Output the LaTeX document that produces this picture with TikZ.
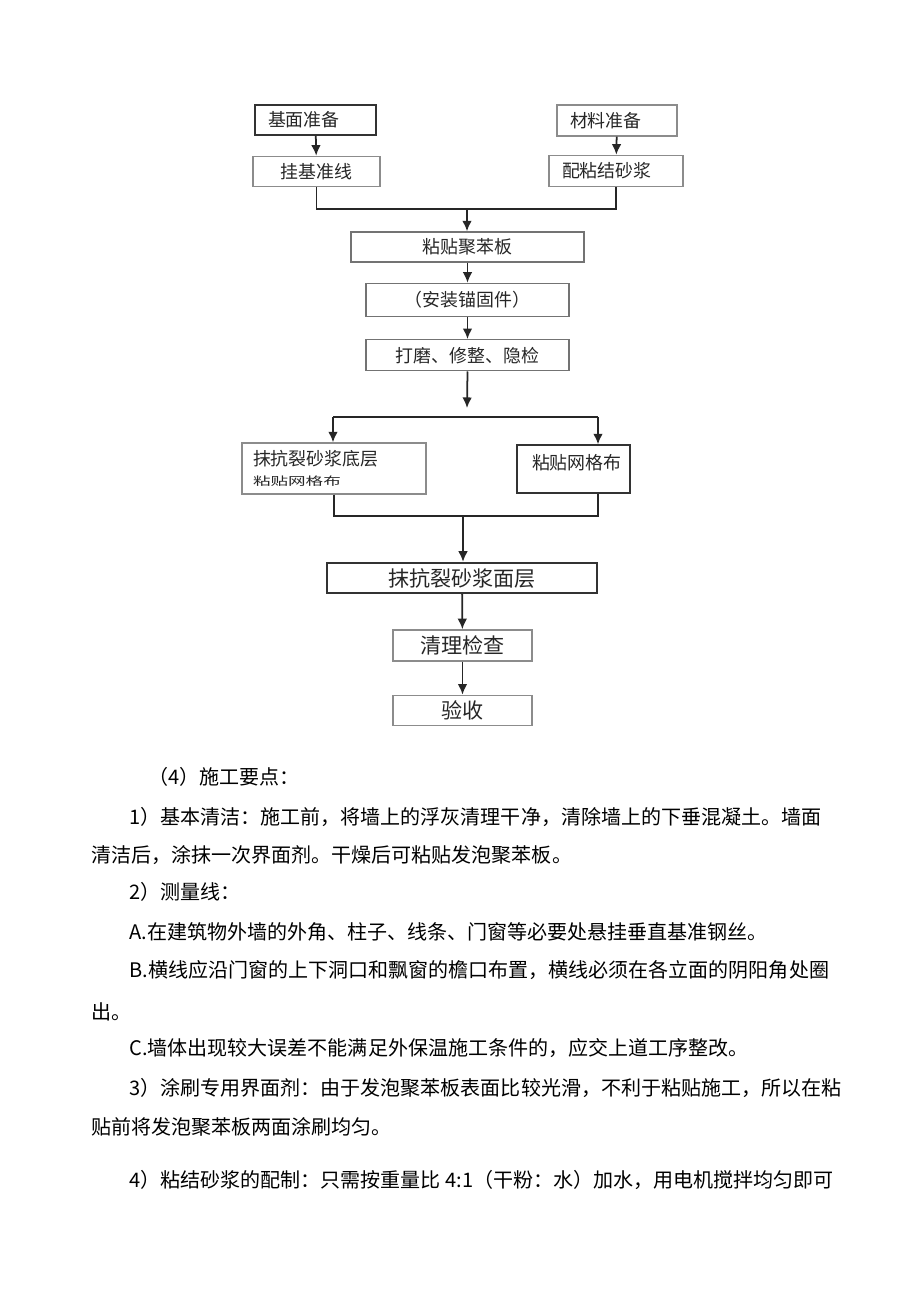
\documentclass[tikz,border=0pt]{standalone}
\usepackage{fontspec}
\newfontfamily\cjk{Noto Sans CJK SC}
\usetikzlibrary{positioning}
\usetikzlibrary{arrows.meta}

\tikzset{
  box/.style={rectangle, draw=black!45, line width=0.8pt, inner sep=0pt, text=black!85,
    font=\cjk\fontsize{10.2pt}{12pt}\selectfont},
  dbox/.style={box, draw=black!80},
  bigbox/.style={box, font=\cjk\fontsize{12pt}{14pt}\selectfont},
  para/.style={anchor=west, inner sep=0pt, font=\cjk\fontsize{11.4pt}{13pt}\selectfont},
  arr/.style={-{Latex[length=6pt,width=5.5pt]}, line width=1pt, draw=black!85},
  wire/.style={line width=1pt, draw=black!85}
}

\begin{document}
\begin{tikzpicture}[x=0.02cm, y=-0.02cm]
  \useasboundingbox (0,0) rectangle (920,1301);

  % Preparation
  \node[dbox, minimum width=2.42cm, minimum height=0.6cm, text width=1.9cm, inner xsep=0.26cm, align=left] (base) at (315.5,120) {基面准备};
  \node[box, minimum width=2.54cm, minimum height=0.6cm, below=0.4cm of base, xshift=0.02cm] (line) {挂基准线};
  \node[box, minimum width=2.4cm, minimum height=0.62cm, text width=1.88cm, inner xsep=0.26cm, align=left] (mat) at (617,120.5) {材料准备};
  \node[box, minimum width=2.68cm, minimum height=0.62cm, text width=2.16cm, inner xsep=0.26cm, align=left, below=0.36cm of mat, xshift=-0.02cm] (mortar) {配粘结砂浆};

  % Boards
  \node[box, draw=black!55, minimum width=4.66cm, minimum height=0.6cm] (eps) at (467.5,247) {粘贴聚苯板};
  \node[box, draw=black!55, minimum width=4.06cm, minimum height=0.66cm, below=0.4cm of eps] (anchor) {（安装锚固件）};
  \node[box, draw=black!55, minimum width=4.06cm, minimum height=0.62cm, below=0.44cm of anchor] (grind) {打磨、修整、隐检};

  % Coating
  \node[box, minimum width=3.68cm, minimum height=1.02cm, text width=3.24cm, inner xsep=0.22cm, align=left] (coat) at (334,468.5)
    {抹抗裂砂浆底层\\[-1pt]{\fontsize{10pt}{10pt}\selectfont\scalebox{1}[0.65]{粘贴网格布}}};
  \node[dbox, minimum width=2.26cm, minimum height=0.96cm, text width=1.66cm, inner xsep=0.3cm, align=left, text depth=0.28cm] (mesh) at (573.5,469) {粘贴网格布};
  \node[bigbox, draw=black!80, line width=1.4pt, minimum width=5.4cm, minimum height=0.6cm] (face) at (462,578) {抹抗裂砂浆面层};
  \node[bigbox, minimum width=2.78cm, minimum height=0.62cm, below=0.7cm of face, xshift=0.01cm] (check) {清理检查};
  \node[bigbox, minimum width=2.78cm, minimum height=0.6cm, below=0.66cm of check] (accept) {验收};

  % Connect the nodes
  \draw[arr] (base) -- (line);
  \draw[arr] (mat) -- (mortar);
  \coordinate (join) at (467,209);
  \draw[wire] (line.south) |- (join) -| (mortar.south);
  \draw[arr] (join) -- (join |- eps.north);
  \draw[arr] (eps) -- (anchor);
  \draw[arr] (anchor) -- (grind);
  \coordinate (drop) at (467,408);
  \draw[arr] (grind.south) -- (drop);
  \coordinate (splitL) at (333,417);
  \coordinate (splitR) at (598,417);
  \draw[wire] (splitL) -- (splitR);
  \draw[arr] (splitL) -- (splitL |- coat.north);
  \draw[arr] (splitR) -- (splitR |- mesh.north);
  \coordinate (merge) at (463,516);
  \draw[wire] (coat.south) |- (merge) -| (mesh.south -| splitR);
  \draw[arr] (merge) -- (merge |- face.north);
  \draw[arr] (face) -- (check);
  \draw[arr] (check) -- (accept);

  % Notes
  \node[para] (p0) at (148,777) {（4）施工要点：};
  \node[para] (p1) at (129,817) {1）基本清洁：施工前，将墙上的浮灰清理干净，清除墙上的下垂混凝土。墙面};
  \node[para] (p2) at (91,855) {清洁后，涂抹一次界面剂。干燥后可粘贴发泡聚苯板。};
  \node[para] (p3) at (129,892) {2）测量线：};
  \node[para] (p4) at (129,932) {A.在建筑物外墙的外角、柱子、线条、门窗等必要处悬挂垂直基准钢丝。};
  \node[para] (p5) at (129,970) {B.横线应沿门窗的上下洞口和飘窗的檐口布置，横线必须在各立面的阴阳角处圈};
  \node[para] (p6) at (91,1012) {出。};
  \node[para] (p7) at (129,1048) {C.墙体出现较大误差不能满足外保温施工条件的，应交上道工序整改。};
  \node[para] (p8) at (129,1088) {3）涂刷专用界面剂：由于发泡聚苯板表面比较光滑，不利于粘贴施工，所以在粘};
  \node[para] (p9) at (91,1127) {贴前将发泡聚苯板两面涂刷均匀。};
  \node[para] (p10) at (129,1180) {4）粘结砂浆的配制：只需按重量比 4:1（干粉：水）加水，用电机搅拌均匀即可};
\end{tikzpicture}
\end{document}
